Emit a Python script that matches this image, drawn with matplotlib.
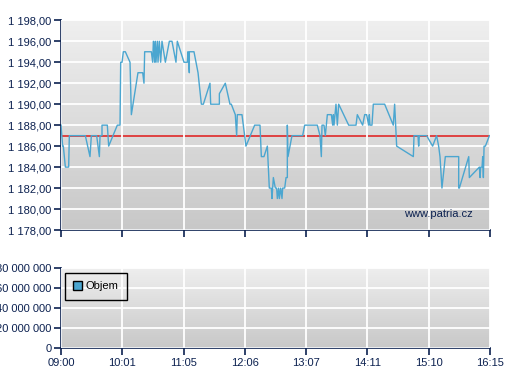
import numpy as np
import matplotlib
matplotlib.use("Agg")
import matplotlib.pyplot as plt
from matplotlib.patches import Patch
from matplotlib.ticker import FuncFormatter
from matplotlib.colors import LinearSegmentedColormap

plt.rcParams['font.family'] = ['Liberation Sans', 'DejaVu Sans']

# ---- data ----
tick_labels = ["09:00", "10:01", "11:05", "12:06", "13:07", "14:11", "15:10", "16:15"]
# session position (in tick intervals) and price
pos = [0.0, 0.027, 0.038, 0.071, 0.125, 0.136, 0.397, 0.473, 0.495, 0.582, 0.626, 0.637,
       0.669, 0.669, 0.756, 0.778, 0.919, 0.963, 0.974, 0.996, 1.017, 1.050, 1.126, 1.148,
       1.256, 1.333, 1.354, 1.365, 1.474, 1.496, 1.507, 1.528, 1.539, 1.550, 1.572, 1.583,
       1.604, 1.626, 1.648, 1.703, 1.768, 1.811, 1.876, 1.898, 2.007, 2.062, 2.072, 2.094,
       2.094, 2.170, 2.236, 2.290, 2.323, 2.431, 2.442, 2.584, 2.584, 2.681, 2.757, 2.779,
       2.844, 2.866, 2.877, 2.953, 3.018, 3.160, 3.247,
       3.269, 3.312, 3.367, 3.399, 3.432, 3.443, 3.465, 3.497, 3.519, 3.530, 3.552, 3.563,
       3.585, 3.606, 3.617, 3.650, 3.672, 3.693, 3.693, 3.704, 3.769, 3.943, 3.976, 4.182,
       4.226, 4.248, 4.259, 4.291, 4.313, 4.346, 4.411, 4.433, 4.444, 4.455, 4.487, 4.509,
       4.531, 4.694, 4.814, 4.835, 4.922, 4.955, 4.987, 5.020, 5.031, 5.042, 5.074, 5.096,
       5.281, 5.422, 5.444, 5.477, 5.749, 5.760, 5.825, 5.836, 5.847, 5.966, 6.064, 6.129,
       6.162, 6.184, 6.216, 6.271, 6.489, 6.489, 6.500, 6.653, 6.663, 6.827, 6.838, 6.849,
       6.870, 6.881, 6.892, 6.903, 6.925, 6.990]
price = [1188, 1186, 1186, 1184, 1184, 1187, 1187, 1185, 1187, 1187, 1185, 1187,
         1187, 1188, 1188, 1186, 1188, 1188, 1194, 1194, 1195, 1195, 1194, 1189,
         1193, 1193, 1192, 1195, 1195, 1194, 1196, 1194, 1196, 1194, 1196, 1194,
         1196, 1194, 1196, 1194, 1196, 1196, 1194, 1196, 1194, 1194, 1195, 1193,
         1195, 1195, 1193, 1190, 1190, 1192, 1190, 1190, 1191, 1192, 1190, 1190,
         1189, 1187, 1189, 1189, 1186, 1188, 1188,
         1185, 1185, 1186, 1182, 1182, 1181, 1183, 1182, 1182, 1181, 1182, 1181,
         1182, 1181, 1182, 1182, 1183, 1183, 1188, 1185, 1187, 1187, 1188, 1188,
         1187, 1185, 1188, 1188, 1187, 1189, 1189, 1188, 1189, 1188, 1190, 1188,
         1190, 1188, 1188, 1189, 1188, 1189, 1189, 1188, 1189, 1188, 1188, 1190,
         1190, 1188, 1190, 1186, 1185, 1187, 1187, 1186, 1187, 1187, 1186, 1187,
         1186, 1185, 1182, 1185, 1185, 1182, 1182, 1185, 1183, 1184, 1183, 1184,
         1184, 1185, 1183, 1186, 1186, 1187]
reference_price = 1187
vol_pos = [0.963, 1.126, 3.687, 4.243, 5.090, 5.480, 6.170, 6.480]
volume = [1.0e6, 1.0e6, 1.5e6, 1.5e6, 1.0e6, 1.0e6, 3.0e6, 1.5e6]

navy = "#0c2150"
line_col = "#4ba6d0"

fig = plt.figure(figsize=(5.07, 3.80), dpi=100)
ax1 = fig.add_axes([61/507, (380-230)/380, 429/507, 209.7/380])
ax2 = fig.add_axes([61/507, (380-348.3)/380, 429/507, 80/380])

grad = np.linspace(0, 1, 256).reshape(-1, 1)
cmap = LinearSegmentedColormap.from_list("g", ["#efefef", "#c8c8c8"])

for ax in (ax1, ax2):
    ax.imshow(grad, aspect='auto', cmap=cmap, extent=[0, 1, 0, 1],
              transform=ax.transAxes, zorder=0)
    for s in ("top", "right"):
        ax.spines[s].set_visible(False)
    for s in ("left", "bottom"):
        ax.spines[s].set_color(navy)
        ax.spines[s].set_linewidth(1.2)
    ax.set_xlim(0, 7)
    ax.set_xticks(range(8))
    ax.grid(True, color="white", linewidth=1.3, zorder=1)
    ax.set_axisbelow(False)
    ax.tick_params(colors=navy, labelcolor=navy, length=5, width=1.2,
                   labelsize=8, pad=2)

ax1.plot(pos, price, color=line_col, linewidth=1.0, zorder=3)
ax1.axhline(reference_price, color="#e02828", linewidth=1.2, zorder=2)
ax1.set_ylim(1178, 1198)
ax1.set_yticks(np.arange(1178, 1199, 2))
ax1.yaxis.set_major_formatter(FuncFormatter(
    lambda v, p: "{:,.2f}".format(v).replace(",", " ").replace(".", ",")))
ax1.set_xticklabels([])
ax1.text(0.96, 0.075, "www.patria.cz", transform=ax1.transAxes, ha="right",
         va="center", color=navy, fontsize=8, zorder=4)

ax2.bar(vol_pos, volume, width=0.008, color=line_col, zorder=3)
ax2.set_ylim(0, 80e6)
ax2.set_yticks([0, 20e6, 40e6, 60e6, 80e6])
ax2.yaxis.set_major_formatter(FuncFormatter(
    lambda v, p: "{:,.0f}".format(v).replace(",", " ")))
ax2.set_xticklabels(tick_labels)
leg = ax2.legend(handles=[Patch(facecolor=line_col, edgecolor="black", linewidth=1)],
                 labels=["Objem"], loc="upper left", bbox_to_anchor=(0.009, 0.94),
                 borderaxespad=0, fancybox=False, framealpha=1, fontsize=8,
                 handlelength=0.75, handleheight=0.75, handletextpad=0.4,
                 borderpad=0.75)
leg.get_frame().set_facecolor("none")
leg.get_frame().set_edgecolor("black")
leg.get_frame().set_linewidth(1)
for t in leg.get_texts():
    t.set_color("black")

fig.savefig("out.png", dpi=100)
